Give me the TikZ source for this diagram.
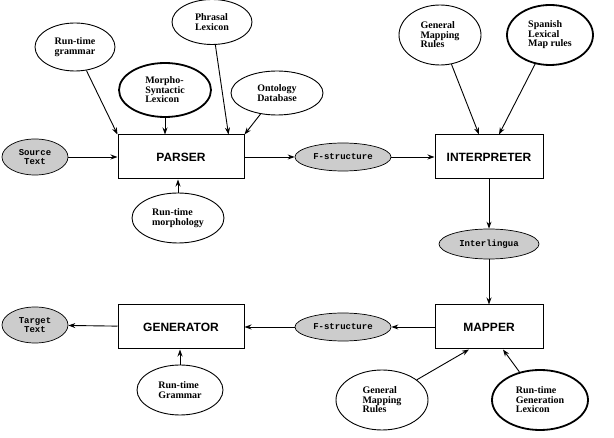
\documentclass[tikz,border=0pt]{standalone}
\usepackage{fontspec}
\setmainfont{Liberation Serif}
\setsansfont{Liberation Sans}
\setmonofont{Liberation Mono}
\usetikzlibrary{shapes.geometric,arrows.meta,calc}
\begin{document}
\begin{tikzpicture}[x=1pt,y=-1pt,
 ell/.style={ellipse,draw,line width=0.9pt,inner sep=0pt,align=left,font=\bfseries\fontsize{10}{9.5}\selectfont},
 thick ell/.style={ell,line width=1.8pt},
 sh/.style={ellipse,draw,fill=gray!40,line width=0.7pt,inner sep=0pt,align=center,font=\ttfamily\bfseries\fontsize{9}{9}\selectfont},
 box/.style={draw,line width=1pt,minimum width=126pt,minimum height=44pt,font=\sffamily\bfseries\fontsize{12}{12}\selectfont},
 sbox/.style={box,minimum width=108pt},
 arr/.style={-{Stealth[length=7pt,width=5pt]},line width=0.9pt}]
\useasboundingbox (0,0) rectangle (614,438);
\node[ell,minimum width=80pt,minimum height=48pt] (rtg) at (75,47) {Run-time\\grammar};
\node[ell,minimum width=80pt,minimum height=45pt] (phl) at (212,22) {Phrasal\\Lexicon};
\node[thick ell,minimum width=92pt,minimum height=54pt] (msl) at (165,90) {Morpho-\\Syntactic\\Lexicon};
\node[ell,minimum width=92pt,minimum height=44pt] (ont) at (277,93) {Ontology\\Database};
\node[sh,minimum width=66pt,minimum height=36pt] (src) at (35,157) {Source\\Text};
\node[box] (parser) at (181,157) {PARSER};
\node[sh,minimum width=96pt,minimum height=28pt] (fs1) at (343,157) {F-structure};
\node[sbox] (interp) at (489,157) {INTERPRETER};
\node[ell,minimum width=82pt,minimum height=60pt] (gmr1) at (440,35) {General\\Mapping\\Rules};
\node[thick ell,minimum width=86pt,minimum height=60pt] (slm) at (550,35) {Spanish\\Lexical\\Map rules};
\node[ell,minimum width=92pt,minimum height=50pt] (rtm) at (178,218) {Run-time\\morphology};
\node[sh,minimum width=100pt,minimum height=30pt] (inter) at (489,244) {Interlingua};
\node[sbox] (mapper) at (489,327) {MAPPER};
\node[sh,minimum width=96pt,minimum height=28pt] (fs2) at (343,327) {F-structure};
\node[box] (gen) at (181,327) {GENERATOR};
\node[sh,minimum width=66pt,minimum height=36pt] (tgt) at (35,325) {Target\\Text};
\node[ell,minimum width=86pt,minimum height=50pt] (rtg2) at (180,390) {Run-time\\Grammar};
\node[ell,minimum width=92pt,minimum height=60pt] (gmr2) at (382,400) {General\\Mapping\\Rules};
\node[thick ell,minimum width=96pt,minimum height=60pt] (rgl) at (540,400) {Run-time\\Generation\\Lexicon};
\coordinate (p1) at ($(parser.north east)+(-16,0)$);
\coordinate (i1) at ($(interp.north)+(-10,0)$);
\coordinate (i2) at ($(interp.north)+(10,0)$);
\coordinate (m1) at ($(mapper.south)+(-20,0)$);
\coordinate (m2) at ($(mapper.south)+(14,0)$);
\draw[arr] (rtg) -- (parser.north west);
\draw[arr] (msl) -- (msl|-parser.north);
\draw[arr] (phl) -- (p1);
\draw[arr] (ont) -- (parser.north east);
\draw[arr] (src) -- (parser);
\draw[arr] (rtm) -- (rtm|-parser.south);
\draw[arr] (parser) -- (fs1);
\draw[arr] (fs1) -- (interp);
\draw[arr] (gmr1) -- (i1);
\draw[arr] (slm) -- (i2);
\draw[arr] (interp) -- (inter);
\draw[arr] (inter) -- (mapper);
\draw[arr] (mapper) -- (fs2);
\draw[arr] (fs2) -- (gen);
\draw[arr] (gen) -- (tgt);
\draw[arr] (rtg2) -- (rtg2|-gen.south);
\draw[arr] (gmr2) -- (m1);
\draw[arr] (rgl) -- (m2);
\end{tikzpicture}
\end{document}
